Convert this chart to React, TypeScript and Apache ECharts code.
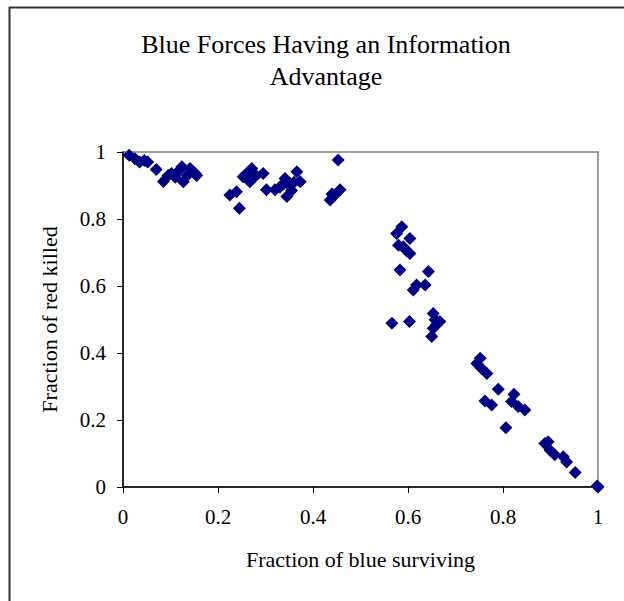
import React, { useEffect, useRef } from "react";
import * as echarts from "echarts";

const titleText = "Blue Forces Having an Information\nAdvantage";
const xAxisName = "Fraction of blue surviving";
const yAxisName = "Fraction of red killed";

const blueSurviving = [
  0.013, 0.025, 0.035, 0.045, 0.052, 0.07, 0.085, 0.095, 0.102, 0.11, 0.118, 0.124, 0.127, 0.135, 0.141, 0.148, 0.152, 0.155,
  0.225, 0.239, 0.245, 0.253, 0.26, 0.267, 0.271, 0.28, 0.295, 0.302, 0.32, 0.33, 0.341, 0.345, 0.35, 0.355, 0.36, 0.366, 0.373, 0.338,
  0.436, 0.446, 0.453, 0.457, 0.44,
  0.587, 0.576, 0.604, 0.58, 0.59, 0.597, 0.604, 0.583, 0.643, 0.636, 0.618, 0.611,
  0.566, 0.603, 0.653, 0.667, 0.657, 0.653, 0.65, 0.66,
  0.752, 0.745, 0.755, 0.766, 0.79, 0.762, 0.776, 0.823, 0.818, 0.832, 0.846, 0.806,
  0.888, 0.895, 0.899, 0.909, 0.927, 0.934, 0.952, 0.998, 1.0,
];

const redKilled = [
  0.99, 0.98, 0.97, 0.975, 0.97, 0.948, 0.912, 0.93, 0.936, 0.925, 0.945, 0.956, 0.911, 0.93, 0.951, 0.94, 0.936, 0.93,
  0.872, 0.881, 0.832, 0.926, 0.935, 0.911, 0.951, 0.93, 0.936, 0.887, 0.887, 0.895, 0.921, 0.867, 0.9, 0.885, 0.91, 0.941, 0.911, 0.905,
  0.857, 0.872, 0.976, 0.887, 0.875,
  0.777, 0.757, 0.742, 0.722, 0.717, 0.705, 0.697, 0.648, 0.643, 0.603, 0.603, 0.588,
  0.489, 0.494, 0.518, 0.494, 0.499, 0.474, 0.449, 0.485,
  0.384, 0.369, 0.354, 0.339, 0.292, 0.257, 0.245, 0.277, 0.255, 0.24, 0.23, 0.177,
  0.13, 0.135, 0.11, 0.096, 0.09, 0.075, 0.043, 0.003, 0.0,
];

const FONT = "'Liberation Serif', 'Times New Roman', serif";

export default function App() {
  const ref = useRef<HTMLDivElement>(null);
  useEffect(() => {
    if (!ref.current) return;
    const chart = echarts.init(ref.current, undefined, { renderer: "svg" });
    const data = blueSurviving.map((x, i) => [x, redKilled[i]]);
    chart.setOption({
      animation: false,
      backgroundColor: "#ffffff",
      title: {
        text: titleText,
        left: 321,
        top: 23,
        textAlign: "center",
        textStyle: {
          fontFamily: FONT,
          fontSize: 26,
          fontWeight: "normal",
          color: "#000",
          lineHeight: 32,
        },
      },
      graphic: [
        { type: "line", shape: { x1: 9, y1: 7.5, x2: 624, y2: 7.5 }, style: { stroke: "#333", lineWidth: 2 } },
        { type: "line", shape: { x1: 9.5, y1: 7, x2: 9.5, y2: 601 }, style: { stroke: "#333", lineWidth: 2 } },
      ],
      grid: {
        left: 123,
        right: 26,
        top: 152,
        bottom: 114,
        show: true,
        borderColor: "#808080",
        borderWidth: 1.5,
        backgroundColor: "transparent",
      },
      xAxis: {
        type: "value",
        min: 0,
        max: 1,
        interval: 0.2,
        name: xAxisName,
        nameLocation: "middle",
        nameGap: 61,
        nameTextStyle: { fontFamily: FONT, fontSize: 22, color: "#000" },
        axisLine: { show: true, onZero: false, lineStyle: { color: "#000", width: 1.5 } },
        axisTick: { show: true, length: 6, lineStyle: { color: "#000", width: 1 } },
        axisLabel: { fontFamily: FONT, fontSize: 21, color: "#000", margin: 19 },
        splitLine: { show: false },
      },
      yAxis: {
        type: "value",
        min: 0,
        max: 1,
        interval: 0.2,
        name: yAxisName,
        nameLocation: "middle",
        nameGap: 63,
        nameTextStyle: { fontFamily: FONT, fontSize: 22, color: "#000" },
        axisLine: { show: true, onZero: false, lineStyle: { color: "#000", width: 1.5 } },
        axisTick: { show: true, length: 6, lineStyle: { color: "#000", width: 1 } },
        axisLabel: { fontFamily: FONT, fontSize: 21, color: "#000", margin: 17 },
        splitLine: { show: false },
      },
      series: [
        {
          type: "scatter",
          data,
          symbol: "diamond",
          symbolSize: 13,
          itemStyle: { color: "#000080", opacity: 1 },
          clip: false,
        },
      ],
    });
    return () => chart.dispose();
  }, []);
  return (
    <div
      ref={ref}
      style={{ position: "absolute", left: 0, top: 0, width: 624, height: 601 }}
    />
  );
}
